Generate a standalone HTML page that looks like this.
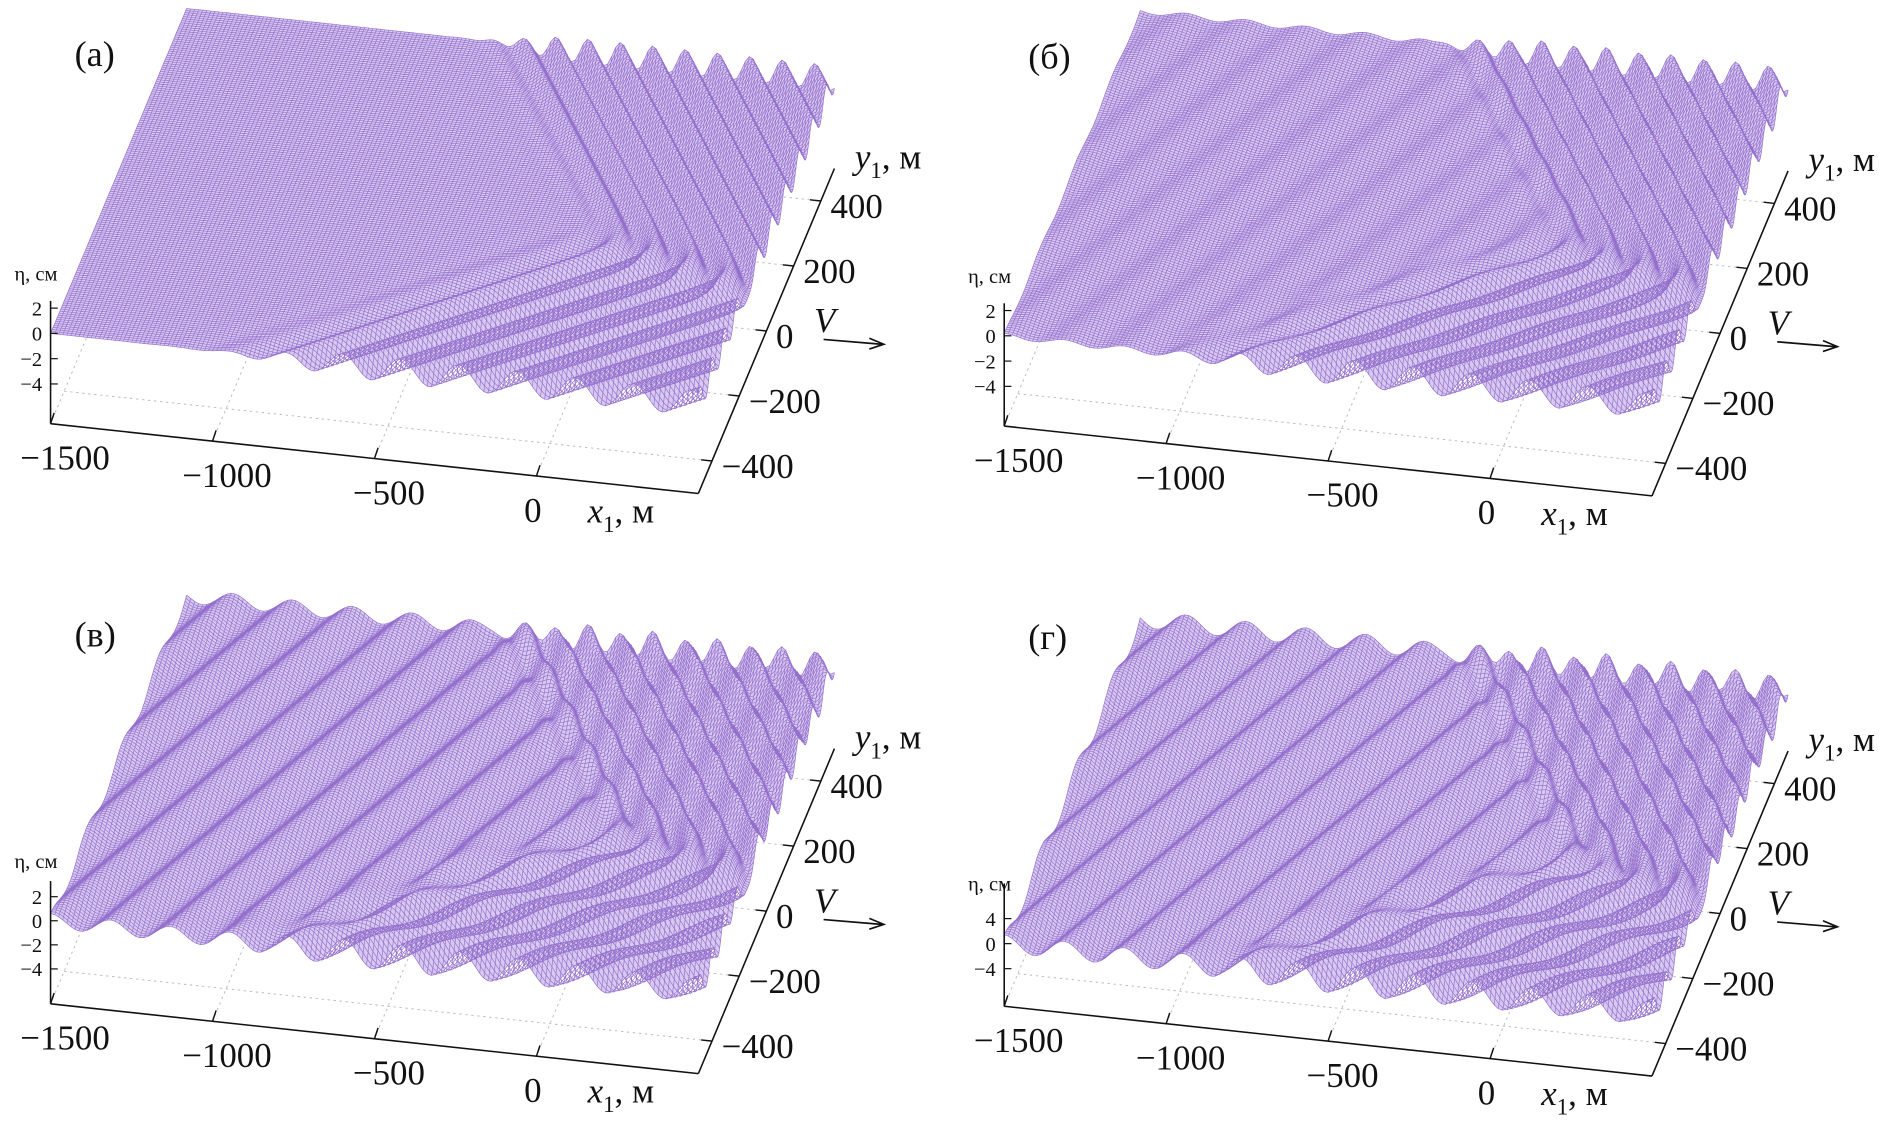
<!DOCTYPE html>
<html><head><meta charset="utf-8">
<style>
html,body{margin:0;padding:0;background:#fff;}
svg{display:block;}
text{font-family:"Liberation Serif",serif;fill:#111;}
</style></head>
<body>
<svg id="chart" width="1888" height="1129" viewBox="0 0 1568 938" preserveAspectRatio="none" xmlns="http://www.w3.org/2000/svg"></svg>
<script>
const panelLabels = ['(а)','(б)','(в)','(г)'];
const wakeAmp = [1.0, 1.0, 1.0, 1.9];
const bgAmp = [0.0, 0.2, 0.6, 1.4];
const apexU = [0.80, 0.80, 0.80, 0.80];
const apexV = [0.44, 0.44, 0.44, 0.44];
const xTicks = [-1500, -1000, -500, 0];
const yTicks = [-400, -200, 0, 200, 400];
const etaTicksA = [2, 0, -2, -4];
const etaTicksD = [4, 0, -4];

const NS = 'http://www.w3.org/2000/svg';
const svg = document.getElementById('chart');
const offX = [0, 792, 0, 792];
const offY = [0, 2, 482, 484];
const etaScale = [10.5, 10.5, 10, 5.2];
const zeroPx = [75, 75, 69, 52];
const X = [538, 58], Y = [113, -270];
const N = 160;

function mk(tag, attrs, parent){const e=document.createElementNS(NS,tag);for(const k in attrs)e.setAttribute(k,attrs[k]);(parent||svg).appendChild(e);return e;}

function eta(p,u,v){
  const du=u-apexU[p], dv=v-apexV[p];
  const a=(du+0.5*dv)/0.05, b=(du-dv)/0.09, s=2.0;
  const m=Math.max(a,b);
  const ph=m+Math.log(Math.exp(s*(a-m))+Math.exp(s*(b-m)))/s;
  const env=1/(1+Math.exp(-2*ph));
  let h=wakeAmp[p]*env*Math.cos(2*Math.PI*ph);
  const bph=(du*0.92-dv*0.32)/0.085;
  h+=bgAmp[p]*Math.cos(2*Math.PI*bph)*(1-0.6*env);
  return h;
}

for(let p=0;p<4;p++){
  const g=mk('g',{});
  
  
  const ox=42+offX[p], oy=352+offY[p];
  const sc=etaScale[p], zp=zeroPx[p];
  const fx=(u,v)=>ox+u*X[0]+v*Y[0];
  const fy=(u,v,h)=>oy+u*X[1]+v*Y[1]-zp-h*sc;
  const floor=(u,v)=>[fx(u,v),oy+u*X[1]+v*Y[1]];
  const xu=x1=>(x1+1500)/2000, yv=y1=>(y1+500)/1000;

  const grid=mk('g',{stroke:'#bbb','stroke-width':0.8,'stroke-dasharray':'2,3'},g);
  
  
  xTicks.forEach(t=>{const a=floor(xu(t),0),b=floor(xu(t),1);mk('line',{x1:a[0],y1:a[1],x2:b[0],y2:b[1]},grid);});
  yTicks.forEach(t=>{const a=floor(0,yv(t)),b=floor(1,yv(t));mk('line',{x1:a[0],y1:a[1],x2:b[0],y2:b[1]},grid);});

  const P=[];
  for(let i=0;i<=N;i++){P.push([]);for(let j=0;j<=N;j++){const u=i/N,v=j/N,h=eta(p,u,v);P[i].push([fx(u,v).toFixed(1),fy(u,v,h).toFixed(1)]);}}
  let outline='M';
  for(let i=0;i<=N;i++)outline+=P[i][0].join(',')+' ';
  for(let j=0;j<=N;j++)outline+=P[N][j].join(',')+' ';
  for(let i=N;i>=0;i--)outline+=P[i][N].join(',')+' ';
  for(let j=N;j>=0;j--)outline+=P[0][j].join(',')+' ';
  const fill=mk('path',{d:outline+'Z',fill:'#d8c9f1',stroke:'none'},g);
  
  
  let d='';
  for(let i=0;i<=N;i++){d+='M'+P[i].map(q=>q.join(',')).join('L');}
  for(let j=0;j<=N;j++){d+='M';for(let i=0;i<=N;i++){d+=(i?'L':'')+P[i][j].join(',');}}
  const mesh=mk('path',{d:d,fill:'none',stroke:'#9470cc','stroke-width':0.55},g);
  
  

  const box=mk('g',{stroke:'#111','stroke-width':1.3,fill:'none'},g);
  
  
  const f0=floor(0,0),f1=floor(1,0),f2=floor(1,1),f3=floor(0,1);
  mk('line',{x1:f0[0],y1:f0[1],x2:f1[0],y2:f1[1]},box);
  mk('line',{x1:f1[0],y1:f1[1],x2:f2[0],y2:f2[1]},box);
  mk('line',{x1:ox,y1:oy,x2:ox,y2:oy-102},box);
  mk('line',{x1:f3[0],y1:f3[1]-75,x2:f2[0],y2:f2[1]-75,'stroke-opacity':0.55,'stroke-width':1},g);

  const et=(p==3)?etaTicksD:etaTicksA;
  et.forEach(t=>{const y=oy-zp-t*sc;mk('line',{x1:ox,y1:y,x2:ox+6,y2:y,stroke:'#111','stroke-width':1},g);
    const tx=mk('text',{x:ox-7,y:y+6,'font-size':17,'text-anchor':'end'},g);tx.textContent=String(t).replace('-','−');
    });
  const el=mk('text',{x:ox-30,y:oy-zp-44,'font-size':17},g);el.textContent='η, см';
  

  xTicks.forEach(t=>{const a=floor(xu(t),0);mk('line',{x1:a[0],y1:a[1],x2:a[0]+3,y2:a[1]-9,stroke:'#111','stroke-width':1.2},g);
    const tx=mk('text',{x:a[0]+(t==0?-3:12),y:a[1]+38,'font-size':29,'text-anchor':'middle'},g);tx.textContent=String(t).replace('-','−');
    });
  const xl=mk('text',{x:ox+446,y:oy+82,'font-size':29},g);
  xl.innerHTML='<tspan font-style="italic">x</tspan><tspan font-size="19" dy="8">1</tspan><tspan dy="-8">, м</tspan>';
  

  yTicks.forEach(t=>{const a=floor(1,yv(t));mk('line',{x1:a[0],y1:a[1],x2:a[0]-9,y2:a[1]-1,stroke:'#111','stroke-width':1.2},g);
    const tx=mk('text',{x:a[0]+8,y:a[1]+14,'font-size':29},g);tx.textContent=String(t).replace('-','−');
    });
  const yl=mk('text',{x:ox+668,y:oy-212,'font-size':29},g);
  yl.innerHTML='<tspan font-style="italic">y</tspan><tspan font-size="19" dy="8">1</tspan><tspan dy="-8">, м</tspan>';
  

  const vl=mk('text',{x:ox+634,y:oy-76,'font-size':29,'font-style':'italic'},g);vl.textContent='V';
  
  const ar=mk('path',{d:`M${ox+642},${oy-70} L${ox+690},${oy-66} M${ox+680},${oy-71} L${ox+692},${oy-66} L${ox+680},${oy-62}`,stroke:'#111','stroke-width':1.4,fill:'none'},g);
  

  const pl=mk('text',{x:ox+20,y:oy-297,'font-size':30},g);pl.textContent=panelLabels[p];
  
}
</script>
</body></html>
